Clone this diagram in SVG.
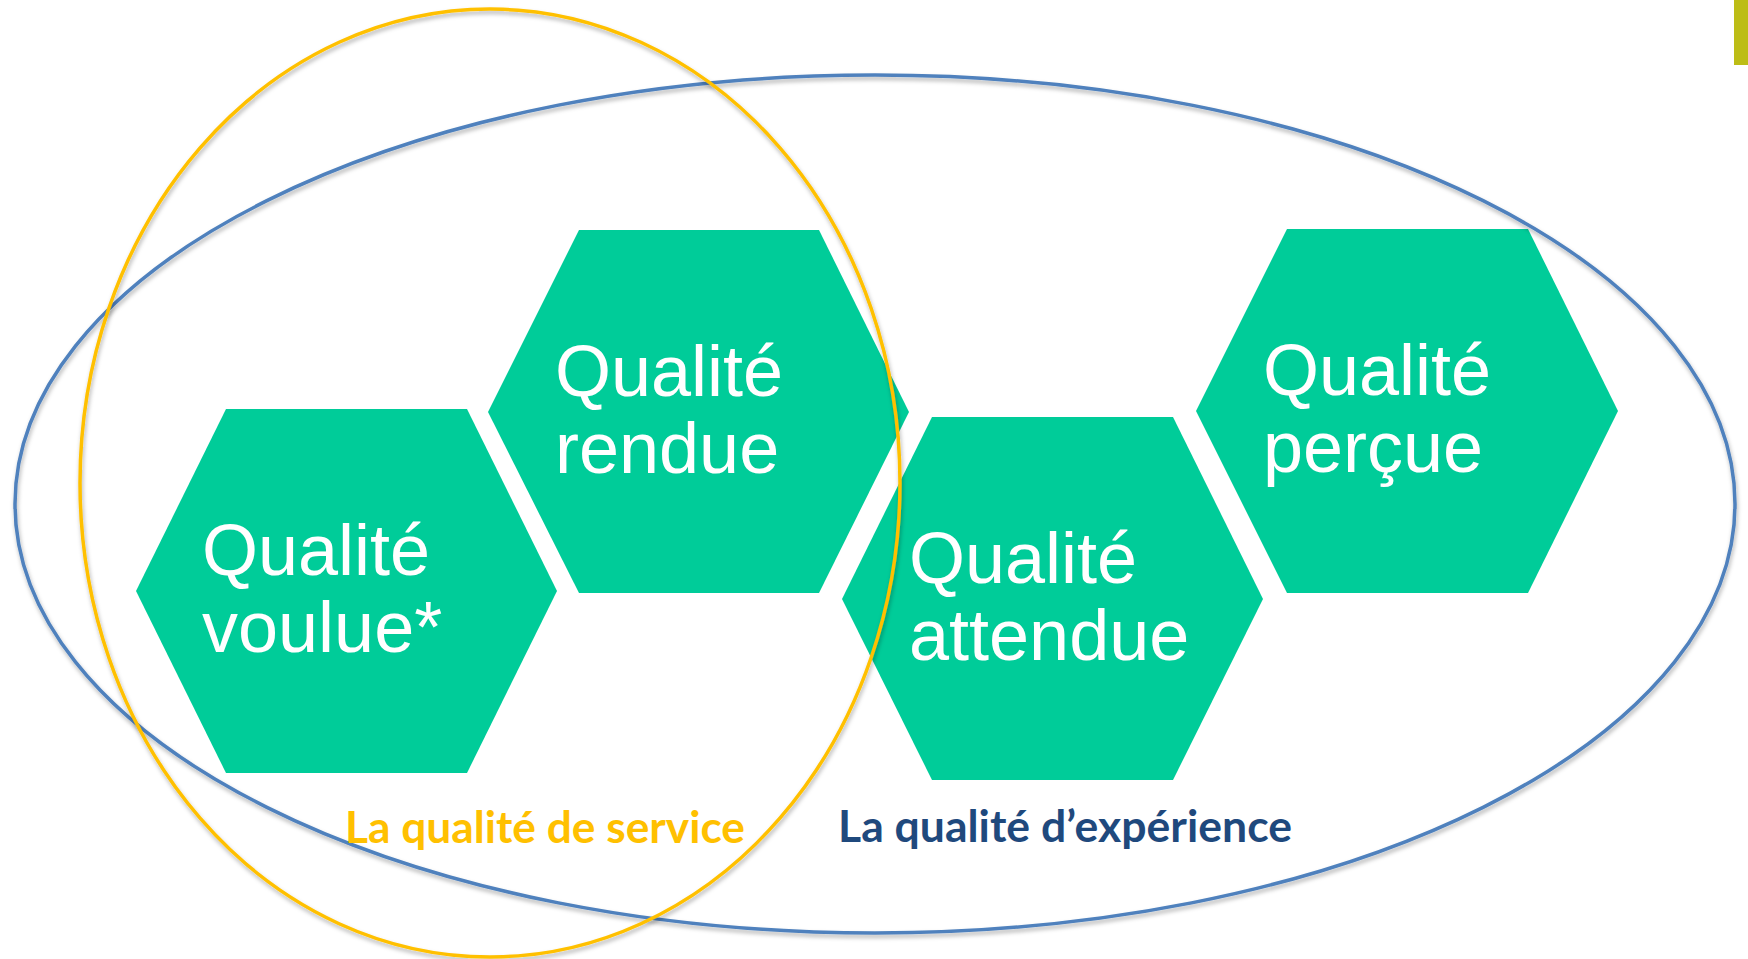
<svg xmlns="http://www.w3.org/2000/svg" width="1748" height="959" viewBox="0 0 1748 959">
  <defs>
    <filter id="shadow" x="-5%" y="-5%" width="110%" height="110%">
      <feDropShadow dx="1" dy="3" stdDeviation="2" flood-color="#000" flood-opacity="0.3"/>
    </filter>
  </defs>
  <style>
    .hex { fill: #00CC99; }
    .ht { font-family: "Liberation Sans", Arial, sans-serif; font-size: 72px; fill: #FFFFFF; }
    .lbl { font-family: Lato, "Open Sans", sans-serif; font-weight: bold; font-size: 44px; }
  </style>
  <rect width="1748" height="959" fill="#FFFFFF"/>
  <rect id="corner-bar" x="1734" y="0" width="14" height="65" fill="#BDBD16"/>

  <g id="node-voulue">
    <polygon class="hex" points="136,591 226,409 467,409 557,591 467,773 226,773"/>
    <text class="ht" x="202" y="575">Qualité</text>
    <text class="ht" x="202" y="652">voulue*</text>
  </g>
  <g id="node-rendue">
    <polygon class="hex" points="488,412 579,230 819,230 909,412 819,593 579,593"/>
    <text class="ht" x="555" y="396">Qualité</text>
    <text class="ht" x="555" y="473">rendue</text>
  </g>
  <g id="node-attendue">
    <polygon class="hex" points="842,599 932,417 1173,417 1263,599 1173,780 932,780"/>
    <text class="ht" x="909" y="583">Qualité</text>
    <text class="ht" x="909" y="660">attendue</text>
  </g>
  <g id="node-percue">
    <polygon class="hex" points="1196,411 1287,229 1528,229 1618,411 1528,593 1287,593"/>
    <text class="ht" x="1263" y="395">Qualité</text>
    <text class="ht" x="1263" y="472">perçue</text>
  </g>

  <g id="connectors">
    <ellipse id="qoe-ellipse" cx="875" cy="504" rx="860" ry="429" fill="none" stroke="#4F81BD" stroke-width="3.5" filter="url(#shadow)"/>
    <ellipse id="qos-ellipse" cx="490" cy="483" rx="410" ry="474" fill="none" stroke="#FFC000" stroke-width="3.5" filter="url(#shadow)"/>
  </g>

  <g id="label-qos">
    <text class="lbl" x="345" y="843" fill="#FFC000" textLength="400" lengthAdjust="spacingAndGlyphs">La qualité de service</text>
  </g>
  <g id="label-qoe">
    <text class="lbl" x="838" y="842" fill="#1F497D" textLength="454" lengthAdjust="spacingAndGlyphs">La qualité d’expérience</text>
  </g>
</svg>
